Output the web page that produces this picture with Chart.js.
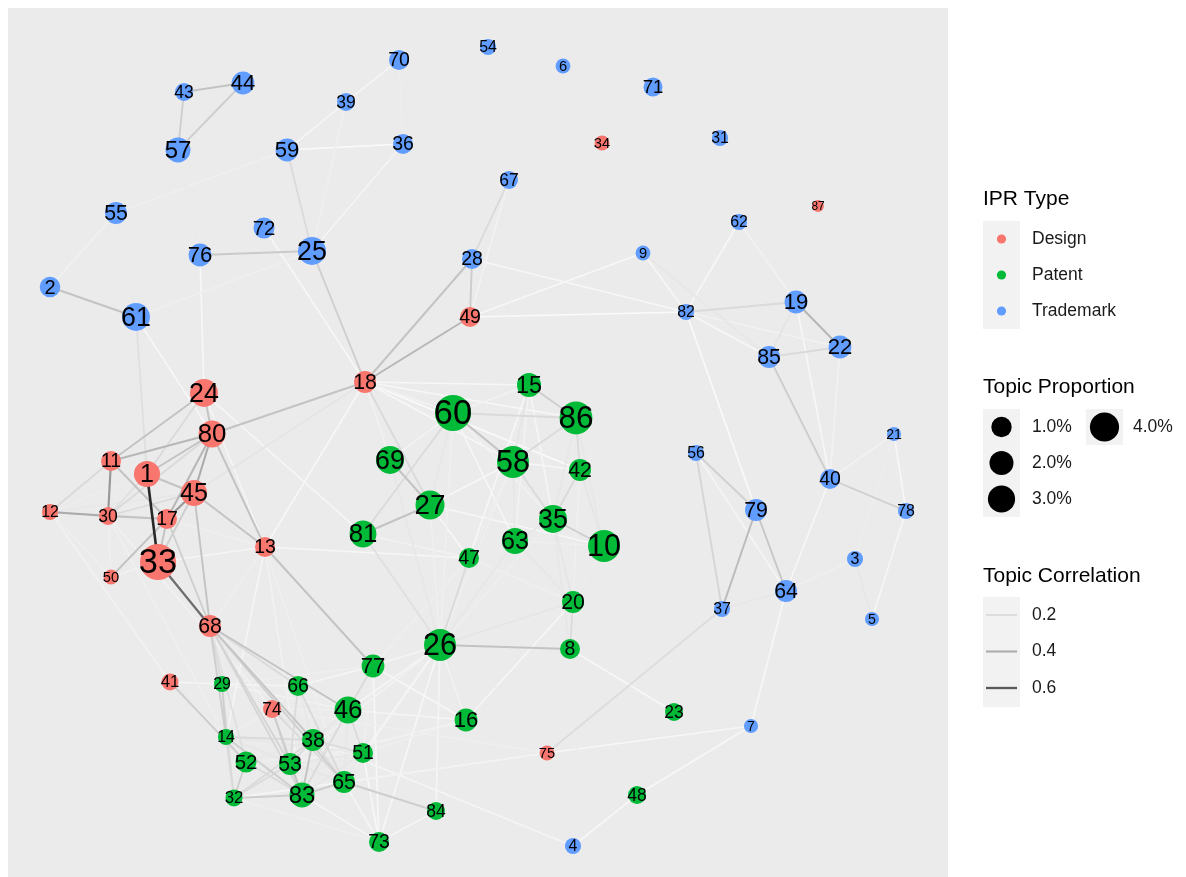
<!DOCTYPE html>
<html>
<head>
<meta charset="utf-8">
<script src="https://cdn.jsdelivr.net/npm/chart.js@4.4.1/dist/chart.umd.min.js"></script>
<style>
  body { margin: 0; background: #ffffff; }
  canvas { display: block; }
</style>
</head>
<body>
<canvas id="topicNetwork" width="1186" height="877"></canvas>
<script>
// topic ids 1..87, layout position, IPR type and topic proportion (%)
const nodeIds = [];
for (let i = 1; i <= 87; i++) nodeIds.push(i);
const nodeType = ['D','T','T','T','T','T','T','P','T','P','D','D','D','P','P','P','D','D','T','P',
  'T','T','P','D','T','P','P','T','P','D','T','P','D','D','P','T','T','P','T','T',
  'D','P','T','T','D','P','P','P','D','D','P','P','P','T','T','T','T','P','T','P',
  'T','T','P','T','P','P','T','D','P','T','T','T','P','D','D','T','P','T','T','D',
  'P','T','P','P','T','P','D'];
const nodeX = [147,50,855,573,872,563,751,570,643,604,111,50,265,226,529,466,167,365,796,573,
  894,840,674,204,312,440,430,472,222,108,720,234,158,602,553,403,722,313,346,830,
  170,580,184,243,194,348,469,637,470,111,363,246,290,488,116,696,178,513,287,453,
  136,739,515,786,344,298,509,210,390,399,653,264,379,272,547,200,373,906,756,212,
  363,686,302,436,769,576,818];
const nodeY = [474,287,559,846,619,66,726,649,253,546,461,512,547,737,385,720,519,382,302,602,
  434,347,712,393,251,645,505,259,684,516,138,798,562,143,519,144,609,740,102,479,
  682,470,92,83,493,710,558,795,317,577,753,762,764,47,213,453,150,462,150,413,
  317,222,541,591,782,686,180,626,460,60,87,228,842,709,753,255,666,511,510,434,
  534,312,795,811,357,418,206];
const nodeProp = [2.8,1.5,0.7,0.7,0.4,0.5,0.4,1.4,0.5,4.5,1.4,0.7,1.4,0.7,2.3,2.0,1.4,1.8,2.0,1.8,
  0.4,2.0,1.0,3.3,3.3,4.5,3.6,1.4,0.7,1.0,0.7,0.85,5.9,0.5,3.3,1.4,0.7,1.8,1.0,1.4,
  0.85,1.8,1.0,2.0,2.8,3.0,1.4,1.0,1.4,0.5,1.4,1.6,1.8,0.7,1.8,0.7,2.5,4.5,2.0,5.9,
  3.3,0.7,2.8,1.8,1.8,1.4,1.0,1.8,3.3,1.4,1.2,1.6,1.4,1.0,0.5,2.0,2.0,0.7,1.8,3.0,
  3.0,0.7,2.5,1.0,1.8,4.8,0.1];

// [from, to, correlation]
const edgeList = [
  [43,44,.30],[43,57,.25],[44,57,.25],
  [70,39,.10],[70,36,.13],[39,59,.10],[39,25,.12],[59,36,.08],[59,25,.20],[36,25,.10],
  [57,76,.14],[55,59,.12],[55,2,.11],[55,61,.14],[2,61,.30],[76,25,.27],[61,25,.12],
  [72,18,.09],[25,18,.25],[25,49,.14],[76,24,.09],[61,1,.18],[61,80,.09],
  [28,67,.20],[49,67,.11],[28,49,.26],[28,18,.30],[49,18,.35],[28,82,.09],[49,82,.08],[49,9,.09],[49,56,.14],
  [9,82,.09],[9,85,.15],[62,82,.09],[62,19,.11],[82,19,.20],[82,22,.11],[82,85,.09],
  [19,22,.35],[19,85,.16],[85,22,.20],[19,40,.09],[22,40,.11],[85,40,.25],[82,79,.08],
  [40,21,.11],[40,78,.25],[21,78,.09],[21,3,.13],[40,3,.14],[3,5,.15],[78,5,.09],[40,64,.09],[64,3,.12],
  [56,79,.24],[56,37,.22],[56,64,.10],[79,37,.33],[79,64,.28],[37,64,.15],[37,75,.19],[64,7,.09],
  [7,75,.09],[7,48,.09],[48,4,.09],[4,38,.10],[8,23,.09],[26,48,.13],[75,74,.12],[75,65,.11],[75,32,.10],
  [8,26,.30],[8,20,.20],[16,20,.09],[26,20,.16],[26,16,.11],[26,47,.20],[26,63,.15],[26,35,.12],[26,77,.10],
  [26,46,.10],[26,84,.10],[26,73,.09],[26,65,.10],[26,51,.10],[26,53,.11],
  [20,10,.13],[20,35,.16],[20,63,.15],[20,47,.12],[8,35,.15],[8,42,.12],
  [10,35,.25],[10,42,.16],[10,86,.15],[10,63,.12],[10,27,.09],
  [15,60,.11],[15,86,.25],[15,58,.16],[15,63,.11],[15,47,.09],[15,35,.10],
  [60,86,.20],[60,58,.30],[60,27,.15],[60,81,.20],[60,69,.11],[60,35,.11],[60,63,.09],[60,26,.12],
  [86,58,.20],[86,42,.20],[86,35,.15],[58,42,.09],[58,35,.20],[58,63,.15],[58,47,.12],[58,26,.12],[58,27,.09],
  [42,35,.20],[35,63,.15],[69,27,.30],[69,26,.15],[27,81,.30],[27,47,.09],[27,26,.12],
  [18,60,.11],[18,15,.09],[18,86,.09],[18,58,.09],[18,42,.08],[18,27,.20],[18,13,.09],[18,80,.30],[18,69,.11],[18,45,.16],
  [81,47,.11],[13,47,.09],[81,26,.18],[24,81,.09],
  [24,80,.30],[24,11,.30],[24,1,.20],[24,13,.10],
  [80,11,.35],[80,1,.30],[80,45,.40],[80,17,.35],[80,30,.20],[80,13,.30],[80,12,.14],
  [11,30,.45],[11,12,.20],[11,17,.30],[1,33,.75],[1,45,.30],[1,30,.18],[1,12,.13],
  [45,17,.45],[45,13,.30],[45,68,.30],[45,30,.20],[45,12,.15],[45,33,.25],
  [12,30,.40],[12,17,.20],[12,50,.12],[12,41,.11],
  [30,17,.30],[30,50,.12],[30,14,.12],[30,74,.11],
  [17,50,.30],[17,33,.30],[17,13,.12],[17,68,.25],
  [33,68,.55],[33,50,.11],[33,13,.10],[33,38,.12],
  [13,68,.12],[13,77,.30],[13,14,.10],[13,83,.11],[13,65,.12],
  [68,46,.30],[68,66,.20],[68,38,.28],[68,29,.20],[68,14,.25],[68,53,.22],[68,83,.22],[68,32,.15],[68,65,.25],[68,52,.18],
  [41,52,.25],[41,14,.12],[41,29,.10],[41,83,.14],
  [29,14,.25],[29,32,.20],[29,77,.12],[29,46,.11],[29,66,.10],
  [14,38,.20],[14,51,.15],[14,32,.20],[14,74,.12],[14,53,.15],[14,83,.25],[14,65,.15],
  [52,32,.25],[52,38,.15],[52,83,.20],[52,65,.14],[52,51,.12],
  [32,83,.25],[32,53,.20],[32,38,.20],[32,51,.14],[32,73,.12],[32,65,.10],
  [53,83,.30],[53,38,.20],[53,65,.15],[53,51,.15],[53,46,.14],[53,16,.11],
  [83,65,.25],[83,38,.30],[83,46,.20],[83,74,.25],[83,51,.15],[83,73,.10],[83,66,.14],
  [38,46,.15],[38,51,.20],[38,65,.18],[38,74,.15],[38,66,.15],
  [74,53,.25],[74,65,.20],[74,66,.12],[74,46,.12],
  [66,65,.20],[66,53,.20],[66,46,.12],[66,77,.10],
  [46,77,.20],[46,51,.20],[46,65,.15],[46,16,.10],
  [51,77,.12],[51,16,.12],[51,65,.15],[51,73,.09],
  [65,73,.10],[65,84,.25],[73,84,.10],[73,77,.09],[77,47,.12],[77,16,.09]
];

const typeNames = ['Design', 'Patent', 'Trademark'];
const typeColors = { D: '#F8766D', P: '#00BA38', T: '#619CFF' };
const propBreaks = ['1.0%', '2.0%', '3.0%', '4.0%'];
const corrBreaks = [0.2, 0.4, 0.6];

function nodeRadius(p) {
    return Math.sqrt(30 + 50 * p);
}
function labelSize(p) {
    return 1.85 * nodeRadius(p) + 1;
}
function corrGray(c) {
    const stops = [[0.08, 250], [0.2, 218], [0.4, 171], [0.6, 90], [0.75, 40]];
    if (c <= stops[0][0]) return 'rgb(250,250,250)';
    for (let i = 1; i < stops.length; i++) {
        if (c <= stops[i][0]) {
            const t = (c - stops[i - 1][0]) / (stops[i][0] - stops[i - 1][0]);
            const g = Math.round(stops[i - 1][1] + t * (stops[i][1] - stops[i - 1][1]));
            return `rgb(${g},${g},${g})`;
        }
    }
    return 'rgb(40,40,40)';
}
function corrWidth(c) {
    return 1.5 + 1.4 * c;
}

// edges sorted so the strongest correlations are drawn on top
const sortedEdges = edgeList.slice().sort((a, b) => a[2] - b[2]);
const edgeDatasets = sortedEdges.map((e, k) => ({
    type: 'line',
    data: [
        { x: nodeX[e[0] - 1], y: nodeY[e[0] - 1] },
        { x: nodeX[e[1] - 1], y: nodeY[e[1] - 1] }
    ],
    borderColor: corrGray(e[2]),
    borderWidth: corrWidth(e[2]),
    pointRadius: 0,
    fill: false,
    order: sortedEdges.length - k
}));

const nodeDataset = {
    type: 'scatter',
    data: nodeIds.map((id, i) => ({ x: nodeX[i], y: nodeY[i] })),
    backgroundColor: nodeType.map(t => typeColors[t]),
    pointRadius: nodeProp.map(p => nodeRadius(p)),
    pointBorderWidth: 0,
    order: 0
};

const panelBackground = {
    id: 'panelBackground',
    beforeDraw(chart) {
        const { ctx, chartArea } = chart;
        ctx.save();
        ctx.fillStyle = '#ffffff';
        ctx.fillRect(0, 0, chart.width, chart.height);
        ctx.fillStyle = '#EBEBEB';
        ctx.fillRect(chartArea.left, chartArea.top, chartArea.right - chartArea.left, chartArea.bottom - chartArea.top);
        ctx.restore();
    }
};

const nodeLabels = {
    id: 'nodeLabels',
    afterDatasetsDraw(chart) {
        const { ctx, scales } = chart;
        ctx.save();
        ctx.fillStyle = '#000000';
        ctx.textAlign = 'center';
        ctx.textBaseline = 'middle';
        nodeIds.forEach((id, i) => {
            const size = labelSize(nodeProp[i]);
            ctx.font = `${size.toFixed(1)}px "Liberation Sans", Arial, sans-serif`;
            const px = scales.x.getPixelForValue(nodeX[i]);
            const py = scales.y.getPixelForValue(nodeY[i]);
            ctx.fillText(String(id), px, py + size * 0.05);
        });
        ctx.restore();
    }
};

const sideLegend = {
    id: 'sideLegend',
    afterDraw(chart) {
        const ctx = chart.ctx;
        const titleFont = '21px "Liberation Sans", Arial, sans-serif';
        const itemFont = '17.5px "Liberation Sans", Arial, sans-serif';
        ctx.save();
        ctx.textBaseline = 'middle';
        ctx.textAlign = 'left';

        // IPR Type
        ctx.fillStyle = '#000000';
        ctx.font = titleFont;
        ctx.fillText('IPR Type', 983, 199);
        ctx.fillStyle = '#F2F2F2';
        ctx.fillRect(983, 221, 37, 108);
        ['D', 'P', 'T'].forEach((t, i) => {
            const cy = 239 + i * 36;
            ctx.fillStyle = typeColors[t];
            ctx.beginPath();
            ctx.arc(1001.5, cy, 4.6, 0, Math.PI * 2);
            ctx.fill();
            ctx.fillStyle = '#1A1A1A';
            ctx.font = itemFont;
            ctx.fillText(typeNames[i], 1032, cy);
        });

        // Topic Proportion
        ctx.fillStyle = '#000000';
        ctx.font = titleFont;
        ctx.fillText('Topic Proportion', 983, 387);
        ctx.fillStyle = '#F2F2F2';
        ctx.fillRect(983, 409, 37, 108);
        ctx.fillRect(1086, 409, 37, 36);
        const keyR = [10.2, 12, 13.6, 14.6];
        const keyPos = [[1001.5, 427, 1032], [1001.5, 463, 1032], [1001.5, 499, 1032], [1104.5, 427, 1133]];
        propBreaks.forEach((lab, i) => {
            ctx.fillStyle = '#000000';
            ctx.beginPath();
            ctx.arc(keyPos[i][0], keyPos[i][1], keyR[i], 0, Math.PI * 2);
            ctx.fill();
            ctx.fillStyle = '#1A1A1A';
            ctx.font = itemFont;
            ctx.fillText(lab, keyPos[i][2], keyPos[i][1]);
        });

        // Topic Correlation
        ctx.fillStyle = '#000000';
        ctx.font = titleFont;
        ctx.fillText('Topic Correlation', 983, 576);
        ctx.fillStyle = '#F2F2F2';
        ctx.fillRect(983, 597, 37, 110);
        corrBreaks.forEach((c, i) => {
            const cy = 615 + i * 36.5;
            ctx.strokeStyle = corrGray(c);
            ctx.lineWidth = corrWidth(c);
            ctx.beginPath();
            ctx.moveTo(986, cy);
            ctx.lineTo(1017, cy);
            ctx.stroke();
            ctx.fillStyle = '#1A1A1A';
            ctx.font = itemFont;
            ctx.fillText(c.toFixed(1), 1032, cy);
        });
        ctx.restore();
    }
};

const chart = new Chart(document.getElementById('topicNetwork').getContext('2d'), {
    type: 'scatter',
    data: { datasets: [nodeDataset].concat(edgeDatasets) },
    options: {
        responsive: false,
        animation: false,
        events: [],
        layout: { autoPadding: false, padding: { left: 8, top: 8, right: 238, bottom: 0 } },
        scales: {
            x: { type: 'linear', min: 8, max: 948, display: false },
            y: { type: 'linear', min: 8, max: 877, reverse: true, display: false }
        },
        plugins: {
            legend: { display: false },
            tooltip: { enabled: false }
        }
    },
    plugins: [panelBackground, nodeLabels, sideLegend]
});
</script>
</body>
</html>
